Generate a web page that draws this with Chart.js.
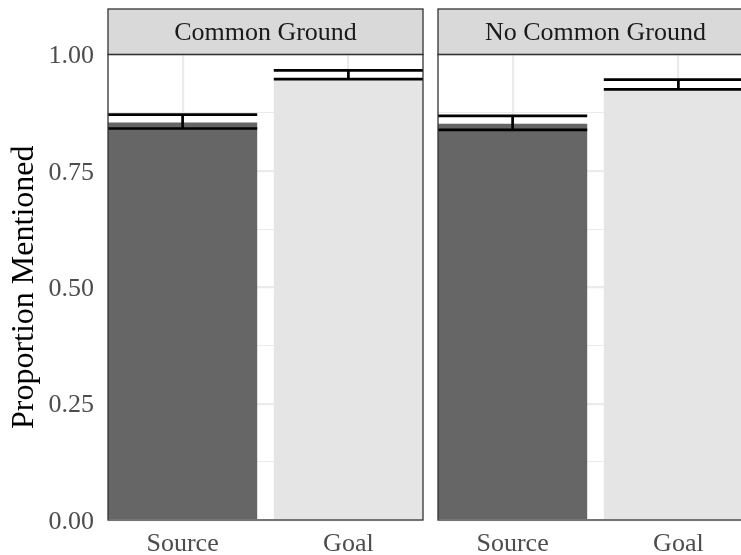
<!DOCTYPE html>
<html>
<head>
<meta charset="utf-8">
<script src="https://cdn.jsdelivr.net/npm/chart.js@4.4.1/dist/chart.umd.min.js"></script>
<style>
  html, body { margin: 0; padding: 0; background: #ffffff; }
  body { width: 741px; height: 555px; overflow: hidden; position: relative; }
  canvas { position: absolute; top: 0; }
  #left { left: 0; }
  #right { left: 430px; }
</style>
</head>
<body>
<canvas id="left" width="430" height="555"></canvas>
<canvas id="right" width="330" height="555"></canvas>
<script>
// Categories and facet panels
const categories = ['Source', 'Goal'];
const panels = ['Common Ground', 'No Common Ground'];

// Mean proportion mentioned, per panel, ordered like categories
const commonGroundMeans = [0.854, 0.946];
const noCommonGroundMeans = [0.851, 0.924];

// Interval bounds for the error bars
const commonGroundLower = [0.841, 0.947];
const commonGroundUpper = [0.871, 0.966];
const noCommonGroundLower = [0.838, 0.925];
const noCommonGroundUpper = [0.868, 0.946];

// Y axis tick labels
const yTickValues = [0, 0.25, 0.5, 0.75, 1];
const yTickLabels = ['0.00', '0.25', '0.50', '0.75', '1.00'];

const barColors = ['#666666', '#e5e5e5'];
const FONT = '"Liberation Serif", "Times New Roman", serif';

const isMajor = v => yTickValues.some(t => Math.abs(t - v) < 1e-9);

// Facet strip above the panel, plus the panel border
const stripPlugin = {
  id: 'strip',
  afterDraw(chart, args, opts) {
    const {ctx, chartArea} = chart;
    const top = 9, h = chartArea.top - top;
    ctx.save();
    ctx.fillStyle = '#d9d9d9';
    ctx.fillRect(chartArea.left, top, chartArea.right - chartArea.left, h);
    ctx.strokeStyle = '#333333';
    ctx.lineWidth = 1.3;
    ctx.strokeRect(chartArea.left, top, chartArea.right - chartArea.left, h);
    ctx.fillStyle = '#1a1a1a';
    ctx.font = '26px ' + FONT;
    ctx.textAlign = 'center';
    ctx.textBaseline = 'middle';
    ctx.fillText(opts.text, (chartArea.left + chartArea.right) / 2, top + h / 2 + 1);
    ctx.strokeRect(chartArea.left, chartArea.top, chartArea.right - chartArea.left, chartArea.bottom - chartArea.top);
    ctx.restore();
  }
};

// Error bars drawn from the interval arrays through the y scale
const errorBarPlugin = {
  id: 'errorBars',
  afterDatasetsDraw(chart, args, opts) {
    const {ctx} = chart;
    const y = chart.scales.y;
    const meta = chart.getDatasetMeta(0);
    ctx.save();
    ctx.beginPath();
    ctx.rect(chart.chartArea.left, chart.chartArea.top - 2, chart.chartArea.right - chart.chartArea.left, chart.chartArea.bottom - chart.chartArea.top + 2);
    ctx.clip();
    ctx.strokeStyle = '#000000';
    ctx.lineWidth = 2.7;
    meta.data.forEach((bar, i) => {
      const half = bar.width / 2;
      const yl = y.getPixelForValue(opts.lower[i]);
      const yh = y.getPixelForValue(opts.upper[i]);
      ctx.beginPath();
      ctx.moveTo(bar.x - half, yh); ctx.lineTo(bar.x + half, yh);
      ctx.moveTo(bar.x - half, yl); ctx.lineTo(bar.x + half, yl);
      ctx.moveTo(bar.x, yh); ctx.lineTo(bar.x, yl);
      ctx.stroke();
    });
    ctx.restore();
  }
};

function makePanel(canvasId, title, means, lower, upper, showY, padLeft) {
  return new Chart(document.getElementById(canvasId), {
    type: 'bar',
    data: {
      datasets: [{
        data: means.map((v, i) => ({x: i + 1, y: v})),
        backgroundColor: barColors,
        borderWidth: 0,
        barPercentage: 0.9,
        categoryPercentage: 1.0
      }]
    },
    plugins: [stripPlugin, errorBarPlugin],
    options: {
      responsive: false,
      animation: false,
      devicePixelRatio: 1,
      layout: { padding: { top: 54.5, right: 7, bottom: 0, left: padLeft } },
      plugins: {
        legend: { display: false },
        tooltip: { enabled: false },
        strip: { text: title },
        errorBars: { lower: lower, upper: upper }
      },
      scales: {
        x: {
          type: 'linear',
          min: 0.55,
          max: 2.45,
          offset: false,
          afterBuildTicks: s => { s.ticks = categories.map((c, i) => ({value: i + 1})); },
          afterFit: s => { s.height = 35; },
          border: { display: false },
          grid: { offset: false, color: '#ebebeb', lineWidth: 2.2, drawTicks: false },
          ticks: {
            autoSkip: false,
            maxRotation: 0,
            padding: 9,
            color: '#4d4d4d',
            font: { family: FONT, size: 26 },
            callback: v => categories[Math.round(v) - 1]
          }
        },
        y: {
          min: 0,
          max: 1,
          afterFit: s => { s.width = showY ? 108 : 0; },
          border: { display: false },
          grid: {
            color: '#ebebeb',
            drawTicks: false,
            lineWidth: c => (c.tick && isMajor(c.tick.value)) ? 2.2 : 1.1
          },
          ticks: {
            display: showY,
            stepSize: 0.125,
            autoSkip: false,
            padding: 14,
            labelOffset: 2,
            color: '#4d4d4d',
            font: { family: FONT, size: 26 },
            callback: v => {
              const k = yTickValues.findIndex(t => Math.abs(t - v) < 1e-9);
              return k >= 0 ? yTickLabels[k] : '';
            }
          },
          title: {
            display: showY,
            text: 'Proportion Mentioned',
            color: '#000000',
            font: { family: FONT, size: 32 },
            padding: { top: 5, bottom: 0 }
          }
        }
      }
    }
  });
}

makePanel('left', panels[0], commonGroundMeans, commonGroundLower, commonGroundUpper, true, 0);
makePanel('right', panels[1], noCommonGroundMeans, noCommonGroundLower, noCommonGroundUpper, false, 8);
</script>
</body>
</html>
